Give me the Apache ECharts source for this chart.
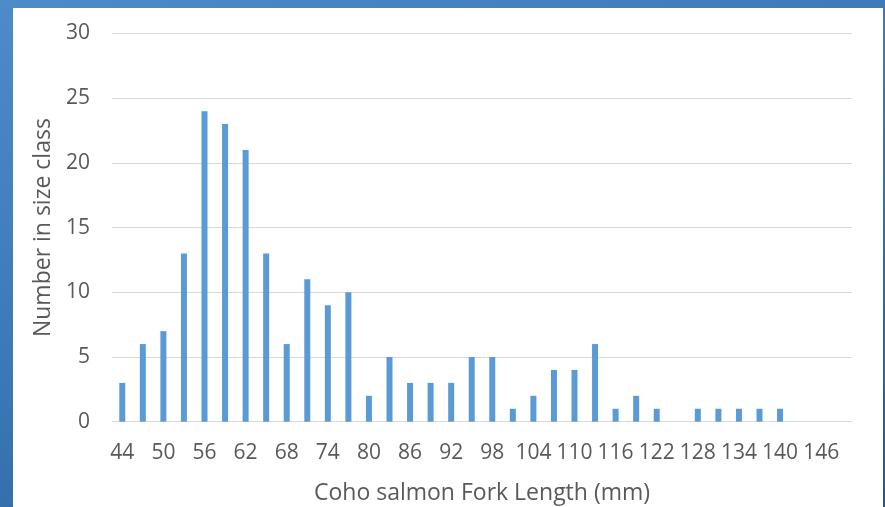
<!DOCTYPE html>
<html>
<head>
<meta charset="utf-8">
<script src="https://cdn.jsdelivr.net/npm/echarts@6/dist/echarts.min.js"></script>
<style>
  html, body { margin: 0; padding: 0; width: 885px; height: 507px; overflow: hidden; }
  body { background: linear-gradient(160deg, #4d8bc9 0%, #3a76b3 50%, #235a8f 100%); position: relative; }
  #panel { position: absolute; left: 13px; top: 8px; width: 870px; height: 499px; background: #fff; }
  #main { position: absolute; left: 0; top: 0; width: 885px; height: 507px; }
</style>
</head>
<body>
<div id="panel"></div>
<div id="main"></div>
<script>
// size classes (mm), last one is an empty class with no label
const sizeClasses = ['44', '47', '50', '53', '56', '59', '62', '65', '68', '71', '74', '77',
  '80', '83', '86', '89', '92', '95', '98', '101', '104', '107', '110', '113',
  '116', '119', '122', '125', '128', '131', '134', '137', '140', '143', '146', '149'];
const counts = [3, 6, 7, 13, 24, 23, 21, 13, 6, 11, 9, 10,
  2, 5, 3, 3, 3, 5, 5, 1, 2, 4, 4, 6,
  1, 2, 1, 0, 1, 1, 1, 1, 1, 0, 0, 0];
const yTicks = { min: 0, max: 30, interval: 5 };

const chart = echarts.init(document.getElementById('main'));
const font = '"Open Sans", sans-serif';

chart.setOption({
  backgroundColor: 'transparent',
  animation: false,
  grid: { left: 112, right: 33, top: 33.5, bottom: 85.3, outerBoundsMode: 'none', containLabel: false },
  xAxis: {
    type: 'category',
    data: sizeClasses,
    name: 'Coho salmon Fork Length (mm)',
    nameLocation: 'middle',
    nameGap: 60,
    nameTextStyle: { color: '#595959', fontSize: 23, fontFamily: font },
    axisLine: { show: true, lineStyle: { color: '#d9d9d9', width: 1 } },
    axisTick: { show: false },
    axisLabel: { interval: 1, color: '#595959', fontSize: 21, fontFamily: font, margin: 21 }
  },
  yAxis: {
    type: 'value',
    min: yTicks.min,
    max: yTicks.max,
    interval: yTicks.interval,
    name: 'Number in size class',
    nameLocation: 'middle',
    nameGap: 57,
    nameTextStyle: { color: '#595959', fontSize: 23, fontFamily: font },
    axisLine: { show: false },
    axisTick: { show: false },
    axisLabel: { color: '#595959', fontSize: 21, fontFamily: font, margin: 22 },
    splitLine: { lineStyle: { color: '#d9d9d9', width: 1 } }
  },
  series: [{
    type: 'bar',
    data: counts,
    barWidth: 6,
    itemStyle: { color: '#5b9bd5' }
  }]
});
</script>
</body>
</html>
